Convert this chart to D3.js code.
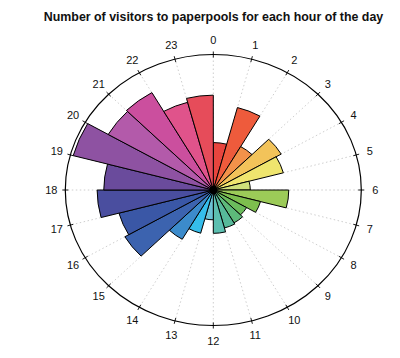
<!DOCTYPE html>
<html>
<head>
<meta charset="utf-8">
<script src="https://cdn.jsdelivr.net/npm/d3@7/dist/d3.min.js"></script>
<style>
  html, body { margin: 0; padding: 0; background: #fff; }
  svg { display: block; }
  text { font-family: "Liberation Sans", Arial, Helvetica, sans-serif; fill: #111; }
</style>
</head>
<body>
<svg id="chart" width="400" height="358"></svg>
<script>
// ---- data ----
const title = "Number of visitors to paperpools for each hour of the day";
const hourLabels = ["0","1","2","3","4","5","6","7","8","9","10","11","12","13","14","15","16","17","18","19","20","21","22","23"];
const visitors = [35, 63, 37, 53, 49, 25, 51, 33, 26, 28, 29, 32, 22, 33, 42, 69, 66, 78.5, 74, 98, 82, 83, 67, 70];
const maxVisitors = 100;
const palette = ["#E8453E","#EE5B3C","#F2924A","#F2C35A","#EFE56E","#CFE07A","#9CCB58","#7DBE4E",
                 "#6BBB5C","#5DB97A","#57B99A","#5CBFB0","#6CC3D6","#35BDEB","#3C8BCB","#3C63AF",
                 "#3A57A6","#4A4E9F","#6A4B9C","#8E52A2","#B35AAA","#CB4F9E","#E0538B","#E64C5A"];

// ---- layout ----
const svg = d3.select("#chart");
const cx = 213.3, cy = 190, rx = 148, ry = 135.5;

const angle = d3.scaleLinear().domain([0, hourLabels.length]).range([0, 2 * Math.PI]);
const radius = d3.scaleLinear().domain([0, maxVisitors]).range([0, rx]);

svg.append("text")
  .attr("x", 213.5).attr("y", 21)
  .attr("text-anchor", "middle")
  .attr("font-size", "12.4px")
  .attr("font-weight", "bold")
  .text(title);

// elliptical group: draw in circular coords, squash vertically
const g = svg.append("g")
  .attr("transform", `translate(${cx},${cy}) scale(1,${ry / rx})`);

// gridlines
g.selectAll("line.grid")
  .data(hourLabels)
  .join("line")
  .attr("class", "grid")
  .attr("x1", 0).attr("y1", 0)
  .attr("x2", (d, i) => rx * Math.sin(angle(i)))
  .attr("y2", (d, i) => -rx * Math.cos(angle(i)))
  .attr("stroke", "#c8c8c8")
  .attr("stroke-width", 0.9)
  .attr("stroke-dasharray", "1.5,2.5")
  .attr("vector-effect", "non-scaling-stroke");

// bars
const arc = d3.arc()
  .innerRadius(0)
  .outerRadius(d => radius(d.v))
  .startAngle(d => angle(d.i))
  .endAngle(d => angle(d.i + 1));

g.selectAll("path.bar")
  .data(visitors.map((v, i) => ({ v, i })))
  .join("path")
  .attr("class", "bar")
  .attr("d", arc)
  .attr("fill", d => palette[d.i])
  .attr("stroke", "#000")
  .attr("stroke-width", 1)
  .attr("stroke-linejoin", "miter")
  .attr("vector-effect", "non-scaling-stroke");

// outer ellipse
g.append("circle")
  .attr("r", rx)
  .attr("fill", "none")
  .attr("stroke", "#000")
  .attr("stroke-width", 1.2)
  .attr("vector-effect", "non-scaling-stroke");

// hub
svg.append("ellipse")
  .attr("cx", cx).attr("cy", cy)
  .attr("rx", 4).attr("ry", 4)
  .attr("fill", "#000");

// ticks (in screen coords, radial)
svg.selectAll("line.tick")
  .data(hourLabels)
  .join("line")
  .attr("class", "tick")
  .attr("x1", (d, i) => cx + (rx - 3) * Math.sin(angle(i)))
  .attr("y1", (d, i) => cy - (ry - 3) * Math.cos(angle(i)))
  .attr("x2", (d, i) => cx + (rx + 3) * Math.sin(angle(i)))
  .attr("y2", (d, i) => cy - (ry + 3) * Math.cos(angle(i)))
  .attr("stroke", "#000")
  .attr("stroke-width", 0.9);

// labels
svg.selectAll("text.lab")
  .data(hourLabels)
  .join("text")
  .attr("class", "lab")
  .attr("x", (d, i) => cx + (rx + 14) * Math.sin(angle(i)))
  .attr("y", (d, i) => cy - (ry + 15) * Math.cos(angle(i)))
  .attr("text-anchor", "middle")
  .attr("dominant-baseline", "central")
  .attr("font-size", "11px")
  .text(d => d);
</script>
</body>
</html>
